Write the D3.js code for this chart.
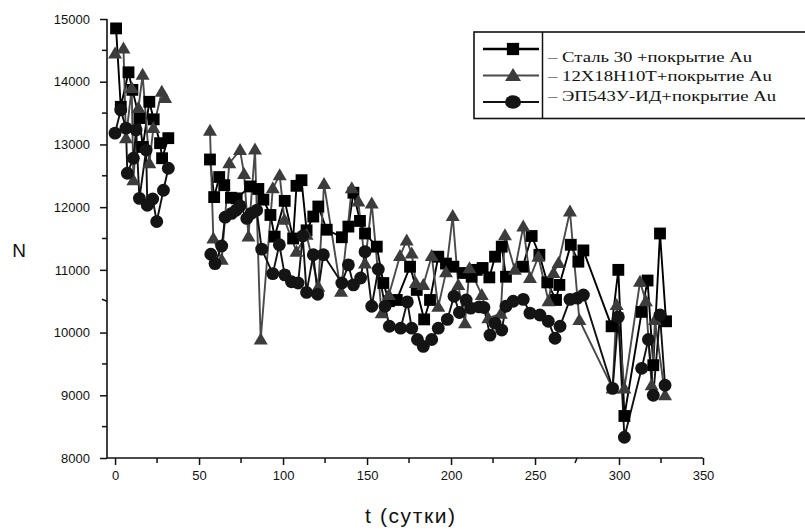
<!DOCTYPE html>
<html>
<head>
<meta charset="utf-8">
<script src="https://cdn.jsdelivr.net/npm/d3@7/dist/d3.min.js"></script>
<style>
  html, body { margin: 0; padding: 0; background: #fff; }
  svg { display: block; }
  .tick text { font-family: Arial, "Liberation Sans", sans-serif; font-size: 13px; fill: #111; }
</style>
</head>
<body>
<svg id="chart" width="805" height="531"></svg>
<script>
// Сталь 30 + покрытие Au
const steelDays = [0.6, 3.4, 8, 10.3, 14.5, 16.5, 20.4, 23, 26.8, 28, 31.7,
  56.5, 59, 62, 65, 69, 72.4, 80.4, 85.3, 88.3, 92.5, 95, 101, 106, 108, 111, 114, 118, 121, 126,
  135, 138.9, 141.9, 145.8, 148.8, 155.8, 159.7, 163, 167.7, 175.6, 179.6, 184, 187.5, 192.4, 197,
  201.4, 207.3, 212.3, 215.3, 218.8, 222.8, 226.2, 230.2, 232.7, 242.7, 248, 252.6, 257.3, 262.5,
  264.5, 271.3, 275.8, 278.8, 295.6, 299.6, 303.2, 313.5, 317, 320.4, 324.4, 328];
const steelN = [14850, 13600, 14150, 13870, 13420, 12960, 13680, 13400, 13020, 12780, 13100,
  12760, 12160, 12480, 12350, 12150, 12140, 12330, 12290, 12120, 11875, 11530, 12100, 11500, 12340, 12430, 11630, 11850, 12010, 11640,
  11520, 11690, 12230, 11780, 11580, 11370, 10790, 10500, 10520, 11050, 10680, 10210, 10520, 11210, 11100,
  11050, 10950, 10890, 11000, 11030, 10880, 11210, 11370, 10890, 11050, 11540, 11240, 10800, 10520,
  10760, 11400, 11130, 11310, 10100, 11000, 8670, 10330, 10830, 9480, 11580, 10180];

// 12Х18Н10Т + покрытие Au
const alloyDays = [0, 5, 6.5, 9.9, 10.9, 13.9, 16.4, 20.4, 22.8, 27.8, 29.8,
  56.5, 58.5, 63.5, 68, 74.4, 76.8, 79.4, 83.3, 86.7, 93.9, 98, 100.8, 108, 114, 121, 124.4, 134.5,
  140.9, 144.8, 148.8, 152.8, 158.7, 163, 169.6, 173.6, 176.6, 179, 183.5, 188.5, 192.4, 197, 201,
  204.3, 208.3, 211, 218.3, 222.2, 229.6, 232.1, 238, 243, 247, 252, 258, 261, 264, 270.8, 276.4,
  296.2, 298.6, 303.2, 312.5, 316, 319.4, 321.4, 327.4];
const alloyN = [14450, 14530, 13100, 13900, 12430, 13580, 14110, 12700, 13260, 13840, 13740,
  13220, 11500, 11160, 12700, 12910, 12530, 11530, 12920, 9890, 12300, 12510, 11800, 11290, 11560, 10730, 12370, 10650,
  12300, 12090, 11100, 12060, 10310, 10600, 11220, 11470, 11260, 10790, 10760, 11220, 10410, 10960, 11860,
  10760, 10150, 11025, 10600, 10230, 10300, 11550, 11000, 11690, 10870, 11210, 10500, 10950, 11110, 11930, 10200,
  9110, 10440, 9110, 10810, 10500, 9160, 10200, 9000];

// ЭП543У-ИД + покрытие Au
const epDays = [0, 3.4, 6.5, 7.3, 10.9, 12.5, 14.5, 18.5, 19.2, 22.4, 24.8, 28.8, 31.7,
  57, 59.5, 63.5, 65.5, 69.4, 72, 74.4, 78.4, 81, 84.3, 87.3, 93.9, 97.8, 101, 105, 109, 111.7, 114, 118,
  120.6, 124, 135, 138.9, 141.9, 146.2, 148.8, 152.8, 156.7, 160.7, 163.3, 170, 174, 176.6, 180,
  183.5, 188.5, 192.4, 197.8, 201.8, 205, 209, 211.7, 216.8, 219.6, 223.2, 226.2, 230.2, 232.7, 237,
  243, 247, 252.9, 257.9, 261.9, 264.9, 270.8, 275.2, 278.8, 296.2, 299.6, 303.2, 313.5, 317.5, 320.4,
  324.4, 327.4];
const epN = [13180, 13550, 13260, 12540, 12780, 13230, 12140, 12910, 12030, 12130, 11770, 12270, 12620,
  11250, 11100, 11380, 11840, 11900, 11950, 12020, 11820, 11900, 11950, 11330, 10940, 11400, 10920, 10810, 10790, 11540, 10640, 11240,
  10610, 11240, 10790, 11080, 10760, 10870, 11290, 10420, 11010, 10420, 10100, 10070, 10490, 10070, 9890,
  9780, 9890, 10070, 10210, 10580, 10320, 10520, 10390, 10410, 10400, 9960, 10150, 10040, 10420, 10500,
  10530, 10310, 10280, 10180, 9910, 10100, 10530, 10550, 10600, 9110, 10250, 8330, 9430, 9890, 9000,
  10280, 9160];

const seriesNames = ["– Сталь 30 +покрытие Au", "– 12X18H10T+покрытие Au", "– ЭП543У-ИД+покрытие Au"];
const xTicks = [0, 50, 100, 150, 200, 250, 300, 350];
const yTicks = [8000, 9000, 10000, 11000, 12000, 13000, 14000, 15000];

const svg = d3.select("#chart");
const x = d3.scaleLinear().domain([-4.8, 350]).range([107, 703]);
const y = d3.scaleLinear().domain([8000, 15000]).range([458, 19]);

// axes
const ax = svg.append("g").attr("transform", "translate(0,458)")
  .call(d3.axisBottom(x).tickValues(xTicks).tickSize(7).tickPadding(6).tickFormat(d3.format("d")));
const ay = svg.append("g").attr("transform", "translate(107,0)")
  .call(d3.axisLeft(y).tickValues(yTicks).tickSize(7).tickPadding(10).tickFormat(d3.format("d")));
[ax, ay].forEach(g => {
  g.select(".domain").attr("stroke", "#111").attr("stroke-width", 1.6);
  g.selectAll(".tick line").attr("stroke", "#111").attr("stroke-width", 1.5);
});
ax.select(".domain").attr("d", "M107,0H703");
ay.select(".domain").attr("d", "M0,19V458");

// minor ticks
const xMinor = d3.range(25, 350, 50);
svg.append("g").selectAll("line").data(xMinor).join("line")
  .attr("x1", d => x(d)).attr("x2", d => x(d) + (d === 275 ? -2 : 0))
  .attr("y1", 458).attr("y2", 463)
  .attr("stroke", "#111").attr("stroke-width", 1.5);
const yMinor = d3.range(8500, 15000, 1000);
svg.append("g").selectAll("line").data(yMinor).join("line")
  .attr("x1", 107).attr("x2", 102)
  .attr("y1", d => y(d)).attr("y2", d => y(d) + (d === 10500 ? -2 : 0))
  .attr("stroke", "#111").attr("stroke-width", 1.5);

// axis titles
svg.append("text").attr("x", 19).attr("y", 257).attr("text-anchor", "middle")
  .attr("font-family", "Arial, 'Liberation Sans', sans-serif").attr("font-size", 19).attr("fill", "#111").text("N");
svg.append("text").attr("x", 410).attr("y", 523).attr("text-anchor", "middle")
  .attr("font-family", "'Liberation Sans Narrow', Arial, 'Liberation Sans', sans-serif").attr("font-size", 21)
  .attr("textLength", 90).attr("lengthAdjust", "spacing")
  .attr("fill", "#111").text("t (сутки)");

// series
const series = [
  { days: steelDays, vals: steelN, line: "#000", fill: "#000", shape: "square", lw: 1.9 },
  { days: alloyDays, vals: alloyN, line: "#4a4a4a", fill: "#3c3c3c", shape: "triangle", lw: 1.9 },
  { days: epDays, vals: epN, line: "#111", fill: "#141414", shape: "circle", lw: 1.9 }
];
const symbolPath = {
  square: d3.symbol().type(d3.symbolSquare).size(140)(),
  triangle: "M0,-7L7,5H-7Z",
  circle: d3.symbol().type(d3.symbolCircle).size(130)()
};
const legendSymbol = {
  square: d3.symbol().type(d3.symbolSquare).size(150)(),
  triangle: "M0,-7.5L8,5.5H-8Z",
  circle: "M-8,0A8,6.8 0 1,0 8,0A8,6.8 0 1,0 -8,0Z"
};

// measurement runs separated by a long pause are drawn as separate polylines
const gapDays = 20;
const line = d3.line().x(d => x(d[0])).y(d => y(d[1]));
function runs(pts) {
  const out = [[pts[0]]];
  for (let i = 1; i < pts.length; i++) {
    if (pts[i][0] - pts[i - 1][0] > gapDays) out.push([]);
    out[out.length - 1].push(pts[i]);
  }
  return out;
}

series.forEach(s => {
  const pts = s.days.map((d, i) => [d, s.vals[i]]);
  runs(pts).forEach(r => {
    svg.append("path").datum(r).attr("d", line)
      .attr("fill", "none").attr("stroke", s.line).attr("stroke-width", s.lw).attr("stroke-linejoin", "round");
  });
});
series.forEach(s => {
  const pts = s.days.map((d, i) => [d, s.vals[i]]);
  svg.append("g").selectAll("path").data(pts).join("path")
    .attr("d", symbolPath[s.shape])
    .attr("transform", d => `translate(${x(d[0])},${y(d[1])})`)
    .attr("fill", s.fill);
});

// legend
const lg = svg.append("g");
lg.append("rect").attr("x", 474).attr("y", 32).attr("width", 340).attr("height", 86.5)
  .attr("fill", "#fff").attr("stroke", "#111").attr("stroke-width", 1.6);
lg.append("line").attr("x1", 542.5).attr("x2", 542.5).attr("y1", 32).attr("y2", 118.5)
  .attr("stroke", "#111").attr("stroke-width", 1.5);
const symY = [49, 75.5, 102];
const textY = [61.5, 81, 100.5];
const textLen = [204, 224, 228];
series.forEach((s, i) => {
  lg.append("line").attr("x1", 483).attr("x2", 539).attr("y1", symY[i]).attr("y2", symY[i])
    .attr("stroke", s.line).attr("stroke-width", i === 0 ? 2.6 : 2);
  lg.append("path").attr("d", legendSymbol[s.shape])
    .attr("transform", `translate(513,${symY[i]})`).attr("fill", s.fill);
  lg.append("text").attr("x", 548).attr("y", textY[i])
    .attr("font-family", "'Liberation Serif', 'Times New Roman', serif").attr("font-size", 15.5)
    .attr("textLength", textLen[i]).attr("lengthAdjust", "spacingAndGlyphs")
    .attr("fill", "#111").text(seriesNames[i]);
});
</script>
</body>
</html>
